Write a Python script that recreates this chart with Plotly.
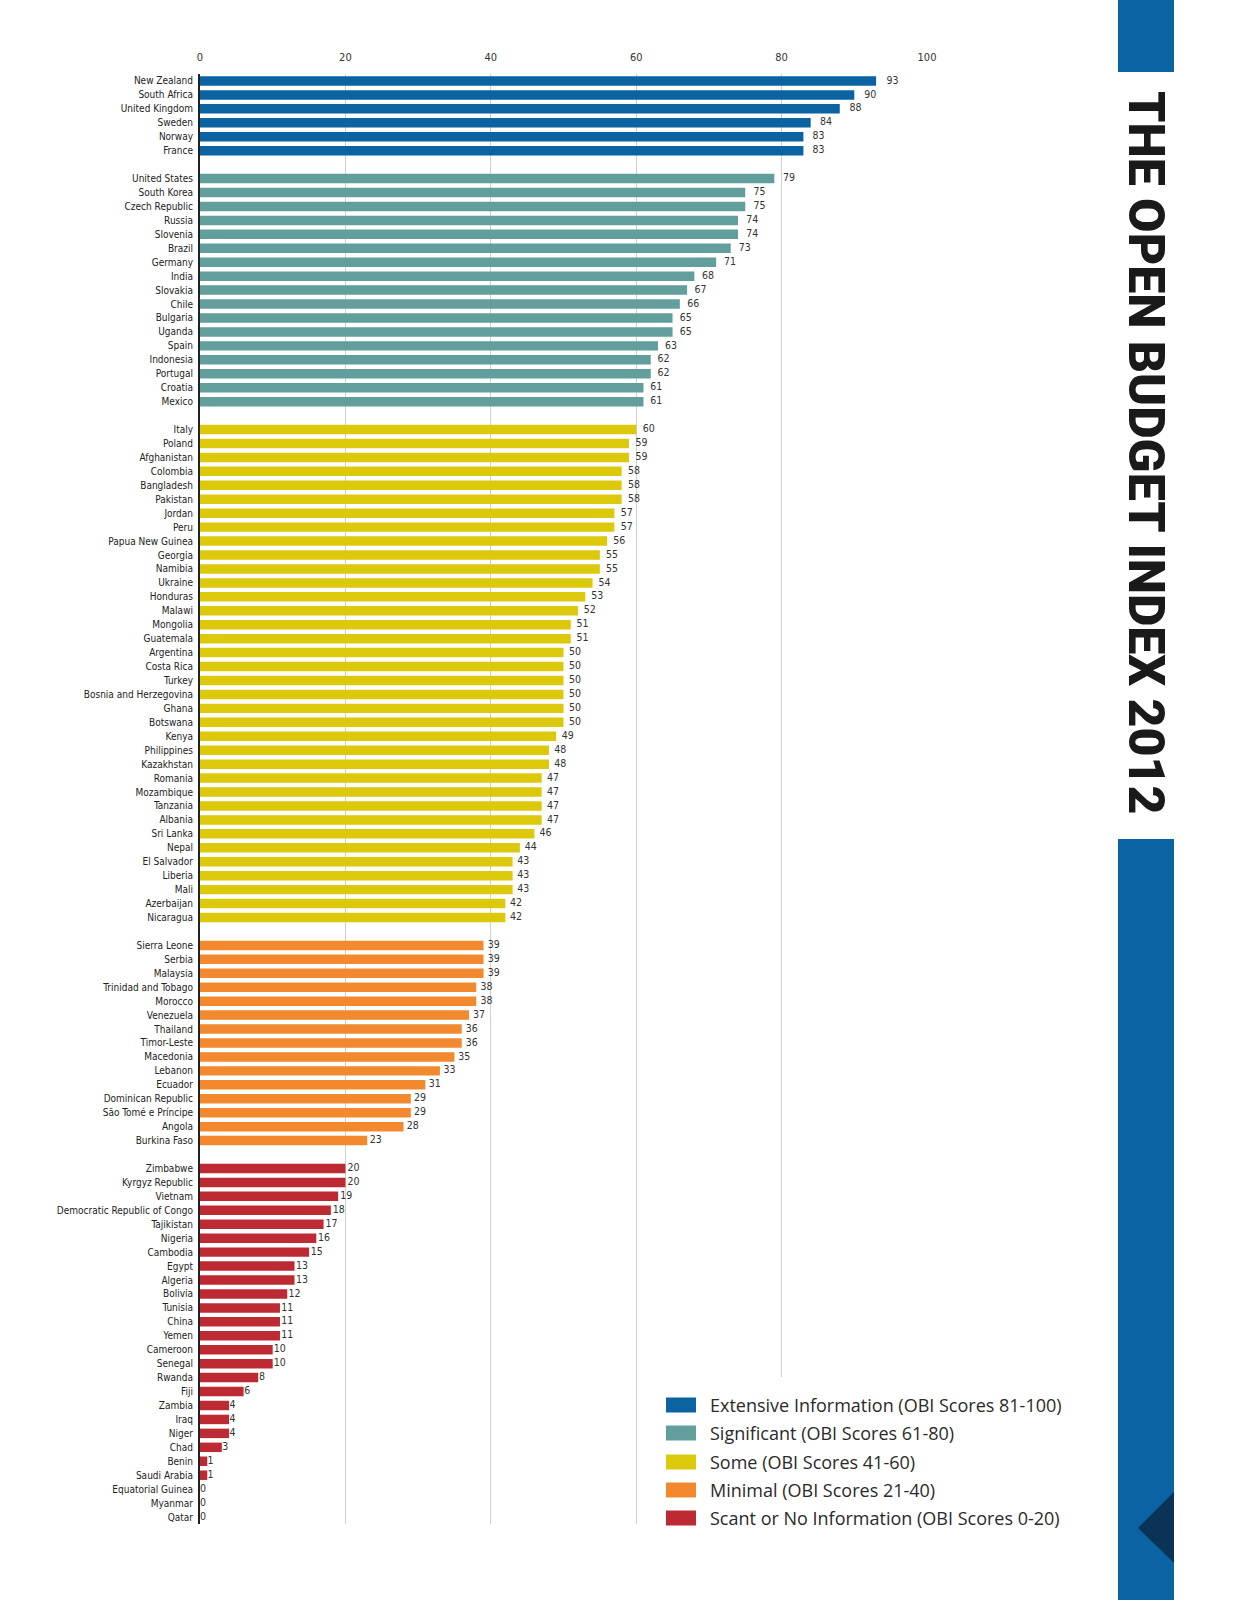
import plotly.graph_objects as go

# ---------------- data ----------------
group_names = [
    "Extensive Information (OBI Scores 81-100)",
    "Significant (OBI Scores 61-80)",
    "Some (OBI Scores 41-60)",
    "Minimal (OBI Scores 21-40)",
    "Scant or No Information (OBI Scores 0-20)",
]
group_colors = ["#0b63a2", "#619e9c", "#dcc90c", "#f3892f", "#bd2a34"]

extensive_countries = ["New Zealand", "South Africa", "United Kingdom", "Sweden", "Norway", "France"]
extensive_scores = [93, 90, 88, 84, 83, 83]

significant_countries = ["United States", "South Korea", "Czech Republic", "Russia", "Slovenia", "Brazil",
                         "Germany", "India", "Slovakia", "Chile", "Bulgaria", "Uganda", "Spain",
                         "Indonesia", "Portugal", "Croatia", "Mexico"]
significant_scores = [79, 75, 75, 74, 74, 73, 71, 68, 67, 66, 65, 65, 63, 62, 62, 61, 61]

some_countries = ["Italy", "Poland", "Afghanistan", "Colombia", "Bangladesh", "Pakistan", "Jordan", "Peru",
                  "Papua New Guinea", "Georgia", "Namibia", "Ukraine", "Honduras", "Malawi", "Mongolia",
                  "Guatemala", "Argentina", "Costa Rica", "Turkey", "Bosnia and Herzegovina", "Ghana",
                  "Botswana", "Kenya", "Philippines", "Kazakhstan", "Romania", "Mozambique", "Tanzania",
                  "Albania", "Sri Lanka", "Nepal", "El Salvador", "Liberia", "Mali", "Azerbaijan", "Nicaragua"]
some_scores = [60, 59, 59, 58, 58, 58, 57, 57, 56, 55, 55, 54, 53, 52, 51, 51, 50, 50, 50, 50, 50, 50,
               49, 48, 48, 47, 47, 47, 47, 46, 44, 43, 43, 43, 42, 42]

minimal_countries = ["Sierra Leone", "Serbia", "Malaysia", "Trinidad and Tobago", "Morocco", "Venezuela",
                     "Thailand", "Timor-Leste", "Macedonia", "Lebanon", "Ecuador", "Dominican Republic",
                     "São Tomé e Príncipe", "Angola", "Burkina Faso"]
minimal_scores = [39, 39, 39, 38, 38, 37, 36, 36, 35, 33, 31, 29, 29, 28, 23]

scant_countries = ["Zimbabwe", "Kyrgyz Republic", "Vietnam", "Democratic Republic of Congo", "Tajikistan",
                   "Nigeria", "Cambodia", "Egypt", "Algeria", "Bolivia", "Tunisia", "China", "Yemen",
                   "Cameroon", "Senegal", "Rwanda", "Fiji", "Zambia", "Iraq", "Niger", "Chad", "Benin",
                   "Saudi Arabia", "Equatorial Guinea", "Myanmar", "Qatar"]
scant_scores = [20, 20, 19, 18, 17, 16, 15, 13, 13, 12, 11, 11, 11, 10, 10, 8, 6, 4, 4, 4, 3, 1, 1, 0, 0, 0]

x_ticks = [0, 20, 40, 60, 80, 100]
banner_title = "THE OPEN BUDGET INDEX 2012"

groups = [
    (extensive_countries, extensive_scores),
    (significant_countries, significant_scores),
    (some_countries, some_scores),
    (minimal_countries, minimal_scores),
    (scant_countries, scant_scores),
]

# ---------------- layout geometry (page pixels) ----------------
PAGE_W, PAGE_H = 1237, 1600
OFF = 0                      # body margin removed by the post script below
W, H = PAGE_W - OFF, PAGE_H - OFF
PL, PR = 200, 927            # plot x extent (page px)
PT, PB = 74, 1524            # plot y extent (page px)

LABEL_FONT = "Liberation Sans Narrow, DejaVu Sans Condensed, Roboto"


def px_x(px):
    return (px - PL) / (PR - PL)


def px_y(py):
    return (PB - py) / (PB - PT)


fig = go.Figure()

tickvals, ticktext = [], []
pos = 0
for gi, (countries, scores) in enumerate(groups):
    ys = list(range(pos, pos + len(countries)))
    tickvals += ys
    ticktext += countries
    fig.add_trace(go.Bar(
        x=scores, y=ys, orientation="h",
        marker=dict(color=group_colors[gi], line=dict(width=0)),
        width=0.68, showlegend=False, name=group_names[gi],
        hovertemplate="%{x}<extra></extra>",
    ))
    # value labels (placed on a slightly stretched companion scale, as in the original)
    fig.add_trace(go.Scatter(
        x=scores, y=ys, mode="text", xaxis="x2",
        text=[str(s) for s in scores], textposition="middle right",
        marker=dict(size=1),
        textfont=dict(size=10.5, color="#333333", family=LABEL_FONT),
        cliponaxis=False, showlegend=False, hoverinfo="skip",
    ))
    pos += len(countries) + 1

n_slots = pos - 1

fig.update_layout(
    width=W, height=H,
    margin=dict(l=PL - OFF, r=PAGE_W - PR, t=PT - OFF, b=PAGE_H - PB, pad=0),
    paper_bgcolor="white", plot_bgcolor="white",
    xaxis=dict(
        range=[0, 100], side="top", tickvals=x_ticks, ticktext=[str(t) for t in x_ticks],
        showgrid=True, gridcolor="#cfcfcf", gridwidth=1, zeroline=False, showline=False,
        ticks="", ticklabelstandoff=10,
        tickfont=dict(size=11, color="#333333", family=LABEL_FONT),
        fixedrange=True,
    ),
    xaxis2=dict(range=[0, 98.5], overlaying="x", side="bottom", visible=False, fixedrange=True),
    yaxis=dict(
        range=[n_slots - 0.5, -0.5], tickvals=tickvals, ticktext=ticktext,
        showgrid=False, zeroline=False, showline=True, linecolor="#222222", linewidth=2,
        ticks="", ticklabelstandoff=3,
        tickfont=dict(size=10, color="#222222", family=LABEL_FONT),
        fixedrange=True,
    ),
    font=dict(family=LABEL_FONT),
)

shapes = []
annotations = []

# white panel behind the legend (hides the grid lines there)
shapes.append(dict(type="rect", xref="paper", yref="paper", layer="above",
                   x0=px_x(648), x1=px_x(1100), y0=px_y(1560), y1=px_y(1377),
                   fillcolor="white", line=dict(width=0)))

# legend (keys + labels)
leg_y = [1405, 1433, 1462, 1490, 1518]
for gi, name in enumerate(group_names):
    cy = leg_y[gi]
    shapes.append(dict(type="rect", xref="paper", yref="paper", layer="above",
                       x0=px_x(666), x1=px_x(696), y0=px_y(cy + 7.5), y1=px_y(cy - 7.5),
                       fillcolor=group_colors[gi], line=dict(width=0)))
    annotations.append(dict(xref="paper", yref="paper", x=px_x(708), y=px_y(cy),
                            text=name, showarrow=False, xanchor="left", yanchor="middle",
                            font=dict(size=18, color="#2a2a2a", family="Open Sans, Noto Sans")))

# right banner
shapes.append(dict(type="rect", xref="paper", yref="paper", layer="above",
                   x0=px_x(1118), x1=px_x(1174), y0=px_y(72), y1=px_y(0),
                   fillcolor="#0a64a4", line=dict(width=0)))
shapes.append(dict(type="rect", xref="paper", yref="paper", layer="above",
                   x0=px_x(1118), x1=px_x(1174), y0=px_y(1600), y1=px_y(839),
                   fillcolor="#0a64a4", line=dict(width=0)))
shapes.append(dict(type="path", xref="paper", yref="paper", layer="above",
                   path="M {} {} L {} {} L {} {} Z".format(
                       px_x(1174), px_y(1492), px_x(1138), px_y(1528), px_x(1174), px_y(1563)),
                   fillcolor="#0b3358", line=dict(width=0)))
annotations.append(dict(xref="paper", yref="paper", x=px_x(1146), y=px_y(453),
                        text=banner_title, showarrow=False, textangle=90,
                        xanchor="center", yanchor="middle",
                        font=dict(size=50, color="#1a1a1a", family="Roboto", weight=900)))

fig.update_layout(shapes=shapes, annotations=annotations)

fig.write_html("out.html", config={"displayModeBar": False},
               post_script="document.body.style.margin='0';document.body.style.overflow='hidden';")
